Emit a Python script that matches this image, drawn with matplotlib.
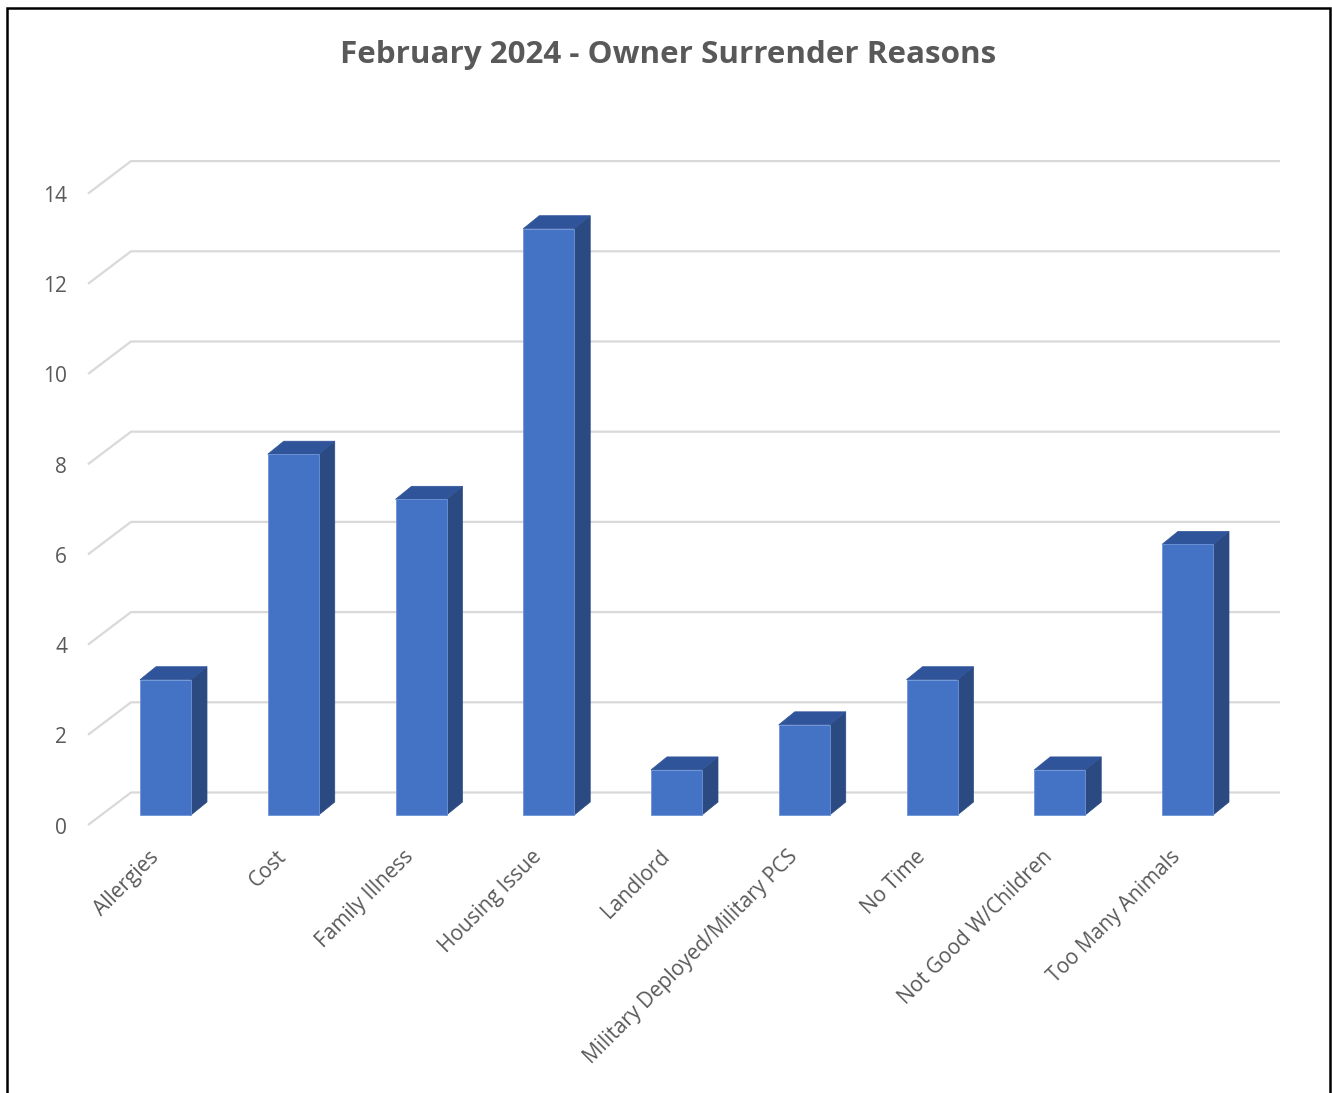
import matplotlib
matplotlib.use("Agg")
import matplotlib.pyplot as plt
from matplotlib.patches import Polygon, Rectangle

# ---- data ----
categories = ["Allergies", "Cost", "Family Illness", "Housing Issue", "Landlord",
              "Military Deployed/Military PCS", "No Time", "Not Good W/Children",
              "Too Many Animals"]
counts = [3, 8, 7, 13, 1, 2, 3, 1, 6]
y_ticks = [0, 2, 4, 6, 8, 10, 12, 14]
title = "February 2024 - Owner Surrender Reasons"

# ---- style ----
W, H = 1332, 1093
FONT = "Open Sans"
GRAY_TXT = "#595959"
GRID = "#D9D9D9"
FRONT = "#4472C4"
SIDE = "#2B4A82"
TOP = "#30549A"

# pixel mapping of the front (bar) plane
x0_px, x_step = 165.5, 127.75
y0_px, y_step = 815.0, 45.1

fig = plt.figure(figsize=(W / 100, H / 100), dpi=100)
ax = fig.add_axes([0, 0, 1, 1])
ax.set_xlim((0 - x0_px) / x_step, (W - x0_px) / x_step)
ax.set_ylim((y0_px - H) / y_step, y0_px / y_step)
ax.axis("off")

px_x = 1.0 / x_step
px_y = 1.0 / y_step

bar_w = 51 * px_x
dx, dy = 16 * px_x, 13 * px_y

# back wall / floor geometry (in data units)
back_left = (131 - x0_px) * px_x
back_right = (1280 - x0_px) * px_x
back_up = (y0_px - 792.5) * px_y
front_left = (88 - x0_px) * px_x
front_down = (825 - y0_px) * px_y

for t in y_ticks:
    ax.plot([front_left, back_left, back_right],
            [t - front_down, t + back_up, t + back_up],
            color=GRID, lw=1.6, zorder=1, solid_capstyle="butt")
    ax.text((67 - x0_px) * px_x, t - front_down - 3 * px_y, str(t), ha="right",
            va="center", fontsize=15, color=GRAY_TXT, family=FONT)

xs = list(range(len(categories)))
ax.bar(xs, counts, width=bar_w, color=FRONT, edgecolor="#6E93D6", linewidth=0.6,
       zorder=3)
for x, v in zip(xs, counts):
    r = x + bar_w / 2
    l = x - bar_w / 2
    side = Polygon([(r, 0), (r + dx, dy), (r + dx, v + dy), (r, v)],
                   closed=True, facecolor=SIDE, edgecolor=SIDE, lw=0.5, zorder=2)
    top = Polygon([(l, v), (r, v), (r + dx, v + dy), (l + dx, v + dy)],
                  closed=True, facecolor=TOP, edgecolor=TOP, lw=0.5, zorder=2)
    ax.add_patch(side)
    ax.add_patch(top)

for x, c in zip(xs, categories):
    ax.text(x - 10 * px_x, -39 * px_y, c, rotation=45, rotation_mode="anchor",
            ha="right", va="center", fontsize=15, color=GRAY_TXT, family=FONT)

fig.text(668.5 / W, 1 - 55 / H, title, ha="center", va="center",
         fontsize=22.6, fontweight="bold", color=GRAY_TXT, family=FONT)

# outer chart border
fig.patches.append(Rectangle((7 / W, -0.01), (1330 - 7) / W, (1093 - 8) / H + 0.01,
                             transform=fig.transFigure, fill=False,
                             edgecolor="black", linewidth=1.8))

fig.savefig("out.png", dpi=100)
